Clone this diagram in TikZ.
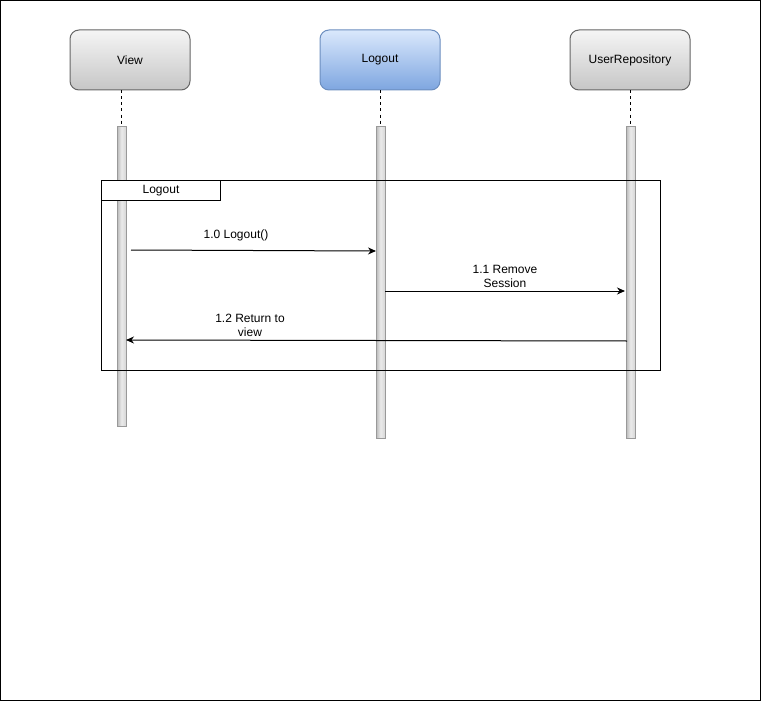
\documentclass[tikz,border=0pt]{standalone}
\usepackage{fontspec}
\setmainfont{Liberation Sans}
\usetikzlibrary{arrows.meta}
\definecolor{grayTop}{HTML}{F5F5F5}
\definecolor{grayBot}{HTML}{C6C6C6}
\definecolor{grayLine}{HTML}{666666}
\definecolor{blueTop}{HTML}{DAE8FC}
\definecolor{blueBot}{HTML}{7EA6E0}
\definecolor{blueLine}{HTML}{6C8EBF}
\definecolor{barLine}{HTML}{999999}
\begin{document}
\begin{tikzpicture}[x=1pt,y=-1pt,
  every node/.style={font=\fontsize{12}{14}\selectfont},
  actor/.style={draw=grayLine, line width=1pt, rounded corners=9pt, minimum width=120pt, minimum height=60pt, top color=grayTop, bottom color=grayBot, inner sep=0pt},
  actorblue/.style={actor, draw=blueLine, top color=blueTop, bottom color=blueBot},
  bar/.style={draw=barLine, line width=1pt, left color=barLine!70, right color=barLine!40, middle color=white!92!black, minimum width=9pt, inner sep=0pt, anchor=north},
  life/.style={line width=0.8pt, dash pattern=on 3pt off 3pt},
  msg/.style={line width=1pt, -{Stealth[length=8pt,width=7pt]}},
  lbl/.style={align=center, inner sep=0pt},
]
\useasboundingbox (0,0) rectangle (761,701);
\draw[line width=1pt] (0.5,0.5) rectangle (760,700);

\node[actor] (view) at (130,60) {View};
\node[actorblue] (logout) at (380,60) {Logout};
\node[actor] (repo) at (630,60) {UserRepository};

\node[bar, minimum height=300pt] (bview) at (121.5,126) {};
\node[bar, minimum height=312pt] (blogout) at (380.5,126) {};
\node[bar, minimum height=312pt] (brepo) at (630.5,126) {};

\draw[life] (view.south -| bview.north) -- (bview.north);
\draw[life] (logout.south -| blogout.north) -- (blogout.north);
\draw[life] (repo.south -| brepo.north) -- (brepo.north);

\node[draw=black, line width=1pt, minimum width=559pt, minimum height=190pt, anchor=north west, inner sep=0pt] (frame) at (101,180) {};
\node[draw=black, line width=1pt, fill=white, minimum width=119pt, minimum height=20pt, anchor=north west, inner sep=0pt] (tab) at (101,180) {Logout};

\coordinate (m1s) at (131,250);
\coordinate (m1e) at (376,251);
\draw[msg] (m1s) -- (m1e);
\node[lbl] (l1) at (236,235) {1.0 Logout()};

\coordinate (m2s) at (385,291);
\coordinate (m2e) at (625,291);
\draw[msg] (m2s) -- (m2e);
\node[lbl] (l2) at (505,276) {1.1 Remove\\Session};

\coordinate (m3s) at (627,341);
\coordinate (m3e) at (126,340);
\draw[msg] (m3s) -- (m3e);
\node[lbl] (l3) at (250,325) {1.2 Return to\\view};
\end{tikzpicture}
\end{document}
